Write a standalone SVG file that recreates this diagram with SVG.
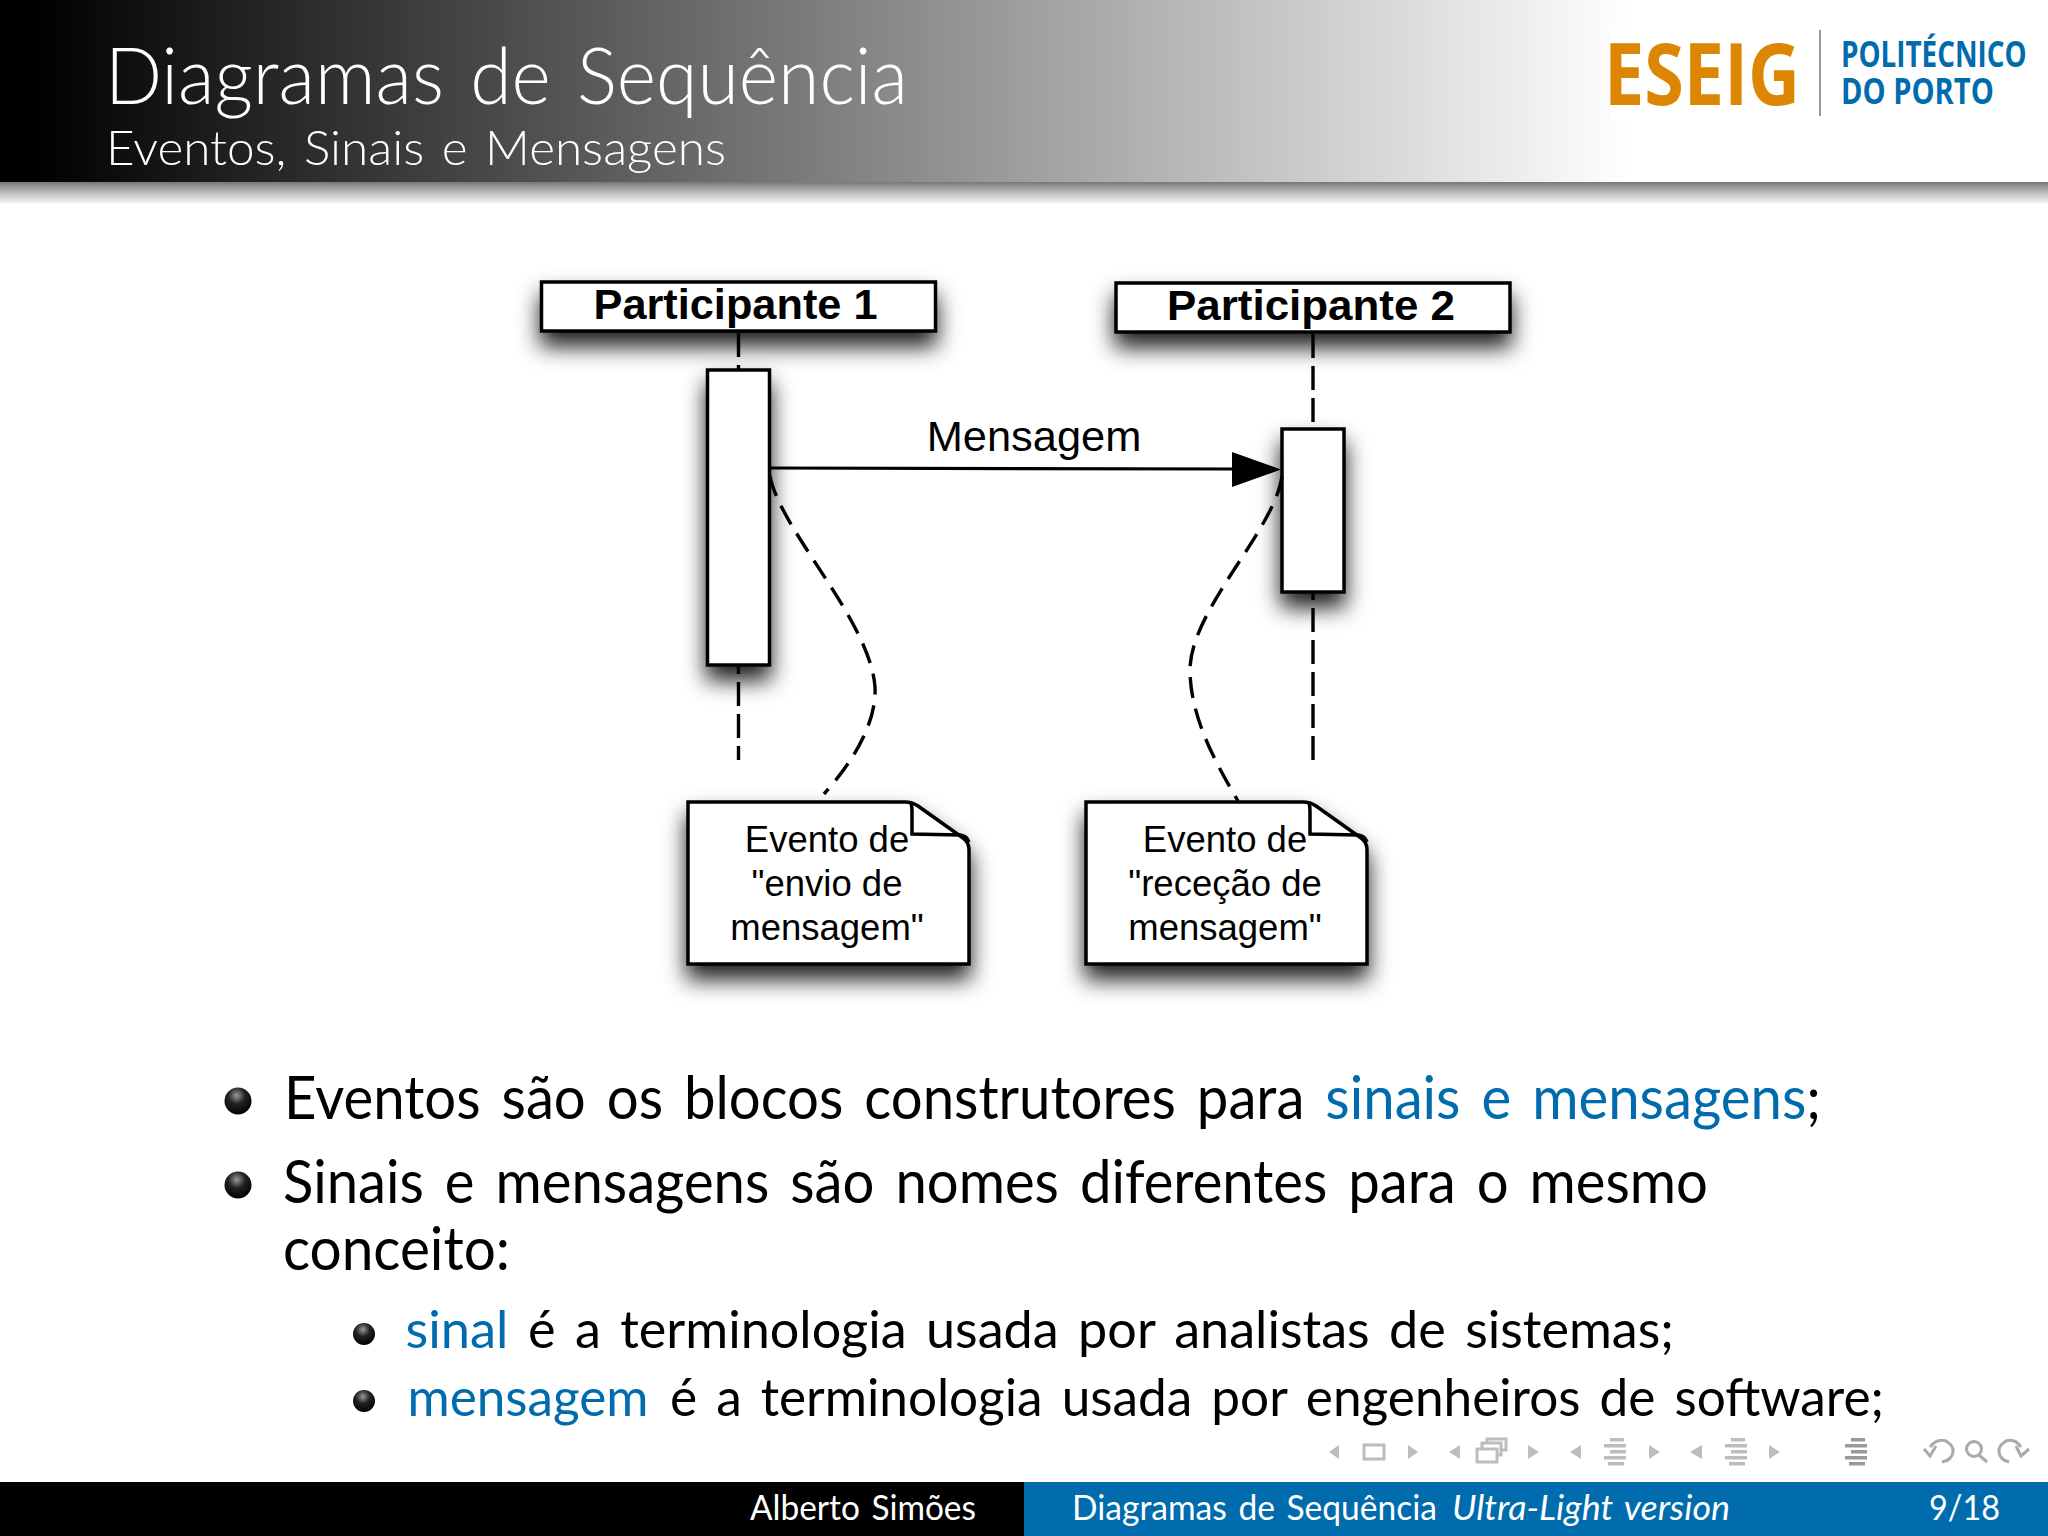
<svg xmlns="http://www.w3.org/2000/svg" width="2048" height="1536" viewBox="0 0 2048 1536">
<style>
.cm{font-family:"Lato","Open Sans","Liberation Sans",sans-serif}
.h1{font-size:78px;font-weight:300;fill:#fff;word-spacing:6px}
.h2{font-size:48px;font-weight:300;fill:#fff;word-spacing:4px}
.b1{font-size:60px;fill:#000;word-spacing:7px}
.b2{font-size:52px;fill:#000;word-spacing:6px}
.blue{fill:#006CAD}
.ft{font-size:34px;fill:#fff;word-spacing:3px}
.ar{font-family:"Liberation Sans",Arial,sans-serif;fill:#000}
.part{font-size:43px;font-weight:bold;text-anchor:middle}
.note{font-size:36.5px;text-anchor:middle}
.box{fill:#fff;stroke:#000;stroke-width:3.5}
.dash{fill:none;stroke:#000;stroke-width:3.4;stroke-dasharray:21 11}
.ll{stroke-dasharray:24 8}
.nav{fill:#bdbdbd}
.navl{fill:none;stroke:#bdbdbd;stroke-width:3}
.logo{font-family:"Open Sans","Noto Sans",sans-serif;font-weight:700}
</style>
<defs>
<linearGradient id="hg" x1="0" x2="1" y1="0" y2="0"><stop offset="0.02" stop-color="#000"/><stop offset="1" stop-color="#fff"/></linearGradient>
<linearGradient id="sh" x1="0" x2="0" y1="0" y2="1"><stop offset="0" stop-color="#777"/><stop offset="0.5" stop-color="#bbb"/><stop offset="1" stop-color="#f2f2f2"/></linearGradient>
<radialGradient id="ball" cx="0.45" cy="0.3" r="0.7"><stop offset="0" stop-color="#999"/><stop offset="0.45" stop-color="#222"/><stop offset="1" stop-color="#000"/></radialGradient>
<filter id="ds" x="-30%" y="-60%" width="160%" height="300%"><feDropShadow dx="0" dy="14" stdDeviation="11" flood-color="#000" flood-opacity="0.88"/></filter>
<filter id="ds2" x="-100%" y="-15%" width="300%" height="150%"><feDropShadow dx="0" dy="14" stdDeviation="11" flood-color="#000" flood-opacity="0.88"/></filter>
<g id="lines"><rect x="6" y="0" width="14" height="3.5"/><rect x="0" y="6" width="22" height="3.5"/><rect x="6" y="12" width="16" height="3.5"/><rect x="0" y="18" width="22" height="3.5"/><rect x="4" y="24" width="16" height="3.5"/></g>
</defs>

<g id="header">
<rect width="1630" height="182" fill="url(#hg)"/>
<rect x="1630" width="418" height="182" fill="#fff"/>
<rect y="182" width="2048" height="21" fill="url(#sh)"/>
<text class="cm h1" x="105" y="104" textLength="803" lengthAdjust="spacingAndGlyphs">Diagramas de Sequência</text>
<text class="cm h2" x="106" y="165" textLength="620" lengthAdjust="spacingAndGlyphs">Eventos, Sinais e Mensagens</text>
</g>

<g id="logo">
<rect x="1610" y="30" width="20" height="90" fill="#fff"/>
<text class="logo" x="1604" y="105" font-size="86" fill="#DD8604" textLength="196" lengthAdjust="spacingAndGlyphs">ESEIG</text>
<rect x="1819" y="30" width="2" height="86" fill="#999"/>
<text class="logo" transform="translate(1841 67) scale(.8 1)" font-size="35" fill="#006CAD" textLength="232" lengthAdjust="spacingAndGlyphs">POLITÉCNICO</text>
<text class="logo" transform="translate(1841 104) scale(.8 1)" font-size="35" fill="#006CAD" textLength="191" lengthAdjust="spacingAndGlyphs">DO PORTO</text>
</g>

<g id="participant-1"><rect class="box" x="541.5" y="282" width="394" height="49" filter="url(#ds)"/><text class="ar part" x="735.5" y="319" textLength="284" lengthAdjust="spacingAndGlyphs">Participante 1</text></g>
<g id="participant-2"><rect class="box" x="1116" y="283" width="394" height="49" filter="url(#ds)"/><text class="ar part" x="1311" y="320" textLength="288" lengthAdjust="spacingAndGlyphs">Participante 2</text></g>
<g id="activation-1"><rect class="box" x="707.5" y="370" width="62" height="295" filter="url(#ds2)"/></g>
<g id="activation-2"><rect class="box" x="1282" y="429" width="62" height="163" filter="url(#ds2)"/></g>

<g id="note-1">
<path class="box" d="M688 802H905Q912 802 918 806L963 838Q969 842 969 850V964H688Z" filter="url(#ds)"/>
<path fill="none" stroke="#000" stroke-width="3.5" d="M911 803Q912 806 912 812V834L960 835Q967 836 969 842"/>
<text class="ar note" x="827" y="852">Evento de</text>
<text class="ar note" x="827" y="896">"envio de</text>
<text class="ar note" x="827" y="940">mensagem"</text>
</g>
<g id="note-2">
<path class="box" d="M1086 802H1303Q1310 802 1316 806L1361 838Q1367 842 1367 850V964H1086Z" filter="url(#ds)"/>
<path fill="none" stroke="#000" stroke-width="3.5" d="M1309 803Q1310 806 1310 812V834L1358 835Q1365 836 1367 842"/>
<text class="ar note" x="1225" y="852">Evento de</text>
<text class="ar note" x="1225" y="896">"receção de</text>
<text class="ar note" x="1225" y="940">mensagem"</text>
</g>

<g id="connectors">
<path class="dash ll" d="M738.5 333V369"/>
<path class="dash ll" d="M738.5 667V674M738.5 682V760"/>
<path class="dash ll" d="M1313 334V428"/>
<path class="dash ll" d="M1313 593V600M1313 608V762"/>
<path fill="none" stroke="#000" stroke-width="3.2" d="M770 468L1236 469"/>
<path d="M1232 452L1281 469.5L1232 487Z"/>
<path class="dash" d="M770 476C780 530 870 620 875 687C877 725 850 765 824 794"/>
<path class="dash" d="M1282 476C1275 530 1190 610 1190 670C1190 720 1220 770 1238 801"/>
<text class="ar" x="1034" y="451" font-size="43.4" text-anchor="middle">Mensagem</text>
</g>

<g id="bullets">
<circle cx="238" cy="1101" r="13.5" fill="url(#ball)"/>
<text class="cm b1" x="284" y="1119" textLength="1537" lengthAdjust="spacingAndGlyphs">Eventos são os blocos construtores para <tspan class="blue">sinais e mensagens</tspan>;</text>
<circle cx="238" cy="1185" r="13.5" fill="url(#ball)"/>
<text class="cm b1" x="283" y="1203" textLength="1425" lengthAdjust="spacingAndGlyphs">Sinais e mensagens são nomes diferentes para o mesmo</text>
<text class="cm b1" x="283" y="1270" textLength="227" lengthAdjust="spacingAndGlyphs">conceito:</text>
<circle cx="364" cy="1334" r="11" fill="url(#ball)"/>
<text class="cm b2 blue" x="405.5" y="1348" textLength="103" lengthAdjust="spacingAndGlyphs">sinal</text>
<text class="cm b2" x="528" y="1348" textLength="1146" lengthAdjust="spacingAndGlyphs">é a terminologia usada por analistas de sistemas;</text>
<circle cx="364" cy="1401" r="11" fill="url(#ball)"/>
<text class="cm b2 blue" x="407.5" y="1416" textLength="241" lengthAdjust="spacingAndGlyphs">mensagem</text>
<text class="cm b2" x="670" y="1416" textLength="1214" lengthAdjust="spacingAndGlyphs">é a terminologia usada por engenheiros de software;</text>
</g>

<g id="navigation">
<path class="nav" d="M1339 1445V1459L1329 1452Z"/>
<rect class="navl" x="1364" y="1445" width="20" height="14"/>
<path class="nav" d="M1408 1445V1459L1418 1452Z"/>
<path class="nav" d="M1460 1445V1459L1449 1452Z"/>
<rect class="navl" x="1477" y="1449" width="20" height="13"/>
<path class="navl" stroke-width="2" d="M1482 1448V1443H1501V1455H1498M1487 1443V1439H1506V1450H1502"/>
<path class="nav" d="M1528 1445V1459L1539 1452Z"/>
<path class="nav" d="M1581 1445V1459L1570 1452Z"/>
<use href="#lines" class="nav" x="1604" y="1438"/>
<path class="nav" d="M1649 1445V1459L1660 1452Z"/>
<path class="nav" d="M1702 1445V1459L1690 1452Z"/>
<use href="#lines" class="nav" x="1725" y="1438"/>
<path class="nav" d="M1769 1445V1459L1780 1452Z"/>
<use href="#lines" fill="#999" x="1845" y="1438"/>
<path class="navl" style="stroke:#aaa" d="M1924 1449L1930 1456L1936 1446M1930 1447Q1937 1438 1946 1441Q1954 1446 1953 1452Q1952 1460 1942 1462"/>
<circle class="navl" style="stroke:#aaa" cx="1974" cy="1449" r="7.5"/>
<path class="navl" style="stroke:#aaa" stroke-width="4" d="M1979 1455L1987 1462"/>
<path class="navl" style="stroke:#aaa" d="M2029 1449L2021 1456L2016 1446M2021 1447Q2015 1438 2006 1441Q1998 1446 1999 1452Q2000 1460 2009 1462"/>
</g>

<g id="footer">
<rect y="1482" width="1024" height="54" fill="#000"/>
<rect x="1024" y="1482" width="1024" height="54" fill="#006CAD"/>
<text class="cm ft" x="750" y="1520" textLength="226" lengthAdjust="spacingAndGlyphs">Alberto Simões</text>
<text class="cm ft" x="1072" y="1520" textLength="365" lengthAdjust="spacingAndGlyphs">Diagramas de Sequência</text>
<text class="cm ft" x="1452" y="1520" font-style="italic" textLength="278" lengthAdjust="spacingAndGlyphs">Ultra-Light version</text>
<text class="cm ft" x="1929" y="1520" textLength="71" lengthAdjust="spacingAndGlyphs">9/18</text>
</g>
</svg>
